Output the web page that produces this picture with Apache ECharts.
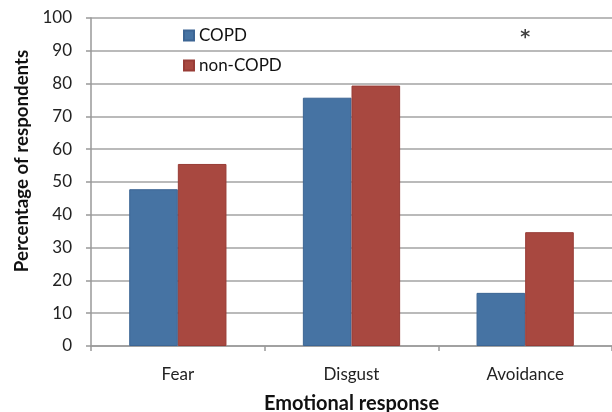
<!DOCTYPE html>
<html>
<head>
<meta charset="utf-8">
<script src="https://cdn.jsdelivr.net/npm/echarts@6/dist/echarts.min.js"></script>
<style>html,body{margin:0;padding:0;background:#fff}#c{width:612px;height:412px}</style>
</head>
<body>
<div id="c"></div>
<script>
const categories = ['Fear', 'Disgust', 'Avoidance'];
const copd = [47.8, 75.7, 16.2];
const nonCopd = [55.5, 79.4, 34.7];
const seriesNames = ['COPD', 'non-COPD'];
const significance = [['Avoidance', 94.0, '*']];

const FONT = 'Lato, "Liberation Sans", sans-serif';
const chart = echarts.init(document.getElementById('c'), null, { renderer: 'canvas' });
chart.setOption({
  animation: false,
  backgroundColor: '#fff',
  textStyle: { fontFamily: FONT },
  grid: { left: 91, right: 0, top: 18, bottom: 66, containLabel: false, outerBoundsMode: 'none' },
  legend: {
    orient: 'vertical', left: 178, top: 22, itemGap: 13,
    itemWidth: 10, itemHeight: 10, icon: 'rect',
    textStyle: { fontFamily: FONT, fontSize: 17, color: '#111' },
    data: seriesNames
  },
  xAxis: {
    type: 'category', data: categories,
    name: 'Emotional response', nameLocation: 'middle', nameGap: 48,
    nameTextStyle: { fontFamily: FONT, fontSize: 20, fontWeight: 'bold', color: '#111' },
    axisLine: { lineStyle: { color: '#999', width: 1.5 } },
    axisTick: { show: true, alignWithLabel: false, length: 5, lineStyle: { color: '#999', width: 1.5 } },
    axisLabel: { fontFamily: FONT, fontSize: 17, color: '#222', margin: 20 }
  },
  yAxis: {
    type: 'value', min: 0, max: 100, interval: 10,
    name: 'Percentage of respondents', nameLocation: 'middle', nameGap: 55,
    nameTextStyle: { fontFamily: FONT, fontSize: 18.7, fontWeight: 'bold', color: '#111', padding: [0, 0, 0, 42] },
    axisLine: { show: true, lineStyle: { color: '#999', width: 1.5 } },
    axisTick: { show: true, length: 5, lineStyle: { color: '#999', width: 1.5 } },
    axisLabel: { fontFamily: FONT, fontSize: 17, color: '#222', margin: 19 },
    splitLine: { show: true, lineStyle: { color: '#a3a3a3', width: 1.5 } }
  },
  series: [
    {
      name: seriesNames[0], type: 'bar', data: copd,
      barGap: '0%', barCategoryGap: '44%',
      itemStyle: { color: '#4673a3', borderColor: '#3c6594', borderWidth: 1 }
    },
    {
      name: seriesNames[1], type: 'bar', data: nonCopd,
      itemStyle: { color: '#a84840', borderColor: '#983c36', borderWidth: 1 }
    },
    {
      name: 'significance', type: 'scatter', silent: true,
      data: significance.map(s => ({ value: [s[0], s[1]], name: s[2] })),
      symbolSize: 1, itemStyle: { color: 'rgba(0,0,0,0)' },
      label: { show: true, position: 'inside', formatter: p => p.name, fontSize: 19, fontWeight: 'bold', color: '#111', fontFamily: '"DejaVu Sans", sans-serif' }
    }
  ]
});
</script>
</body>
</html>
